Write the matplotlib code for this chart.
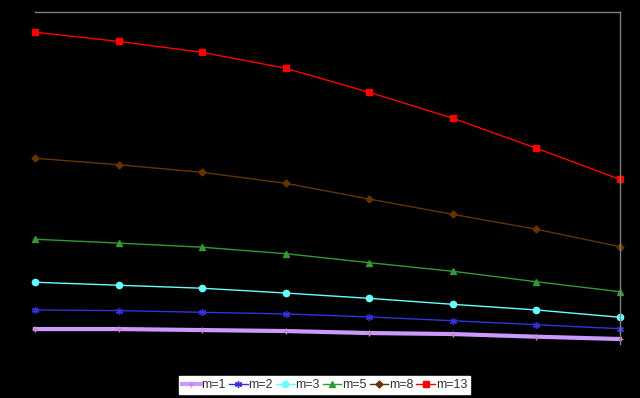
import matplotlib
matplotlib.use("Agg")
import matplotlib.pyplot as plt

x = [1, 2, 3, 4, 5, 6, 7, 8]
m1 = [9.0, 9.0, 8.4, 7.8, 6.6, 6.0, 4.4, 3.0]
m2 = [20.5, 20.1, 19.1, 18.1, 16.3, 14.0, 11.6, 9.2]
m3 = [37.2, 35.4, 33.6, 30.7, 27.5, 23.9, 20.5, 16.1]
m5 = [63.1, 60.8, 58.3, 54.4, 49.0, 43.8, 37.5, 31.5]
m8 = [111.9, 108.0, 103.4, 96.8, 87.3, 78.1, 69.1, 58.6]
m13 = [187.8, 182.3, 175.7, 166.1, 151.6, 136.0, 117.9, 99.2]
labels = ["m=1", "m=2", "m=3", "m=5", "m=8", "m=13"]

plt.rcParams['font.family'] = ['Liberation Sans', 'DejaVu Sans']
fig = plt.figure(figsize=(6.4, 3.98), dpi=100, facecolor='black')
ax = fig.add_axes([35/640, 54/398, 585/640, 332/398])
ax.set_facecolor('black')

ax.plot(x, m1, color='#CC99FF', lw=3, marker='+', ms=5, mec='#CC88CC', mew=1, label=labels[0])
ax.plot(x, m2, color='#3333DD', lw=1, marker=(6, 2, 0), ms=5, mew=1, label=labels[1])
ax.plot(x, m3, color='#66FFFF', lw=1, marker='o', ms=4.5, label=labels[2])
ax.plot(x, m5, color='#339933', lw=1, marker='^', ms=4.5, label=labels[3])
ax.plot(x, m8, color='#663300', lw=1, marker='D', ms=3.5, label=labels[4])
ax.plot(x, m13, color='#FF0000', lw=1, marker='s', ms=4.5, label=labels[5])

ax.set_xlim(1, 8)
ax.set_ylim(0, 200)
ax.set_xticks([])
ax.set_yticks([])
for s in ['left', 'bottom']:
    ax.spines[s].set_visible(False)
for s in ['top', 'right']:
    ax.spines[s].set_color('#808080')
    ax.spines[s].set_linewidth(1)
for l in ax.lines:
    l.set_clip_on(False)

leg = fig.legend(loc='center', bbox_to_anchor=(324.5/640, 1 - 385/398), ncol=6,
                 frameon=True, fancybox=False, facecolor='white', edgecolor='white',
                 framealpha=1, fontsize=9, handlelength=1.5, handletextpad=0.05,
                 columnspacing=0.25, borderpad=0.25, borderaxespad=0)
for t in leg.get_texts():
    t.set_color('#333333')

fig.savefig('out.png', dpi=100, facecolor='black')
